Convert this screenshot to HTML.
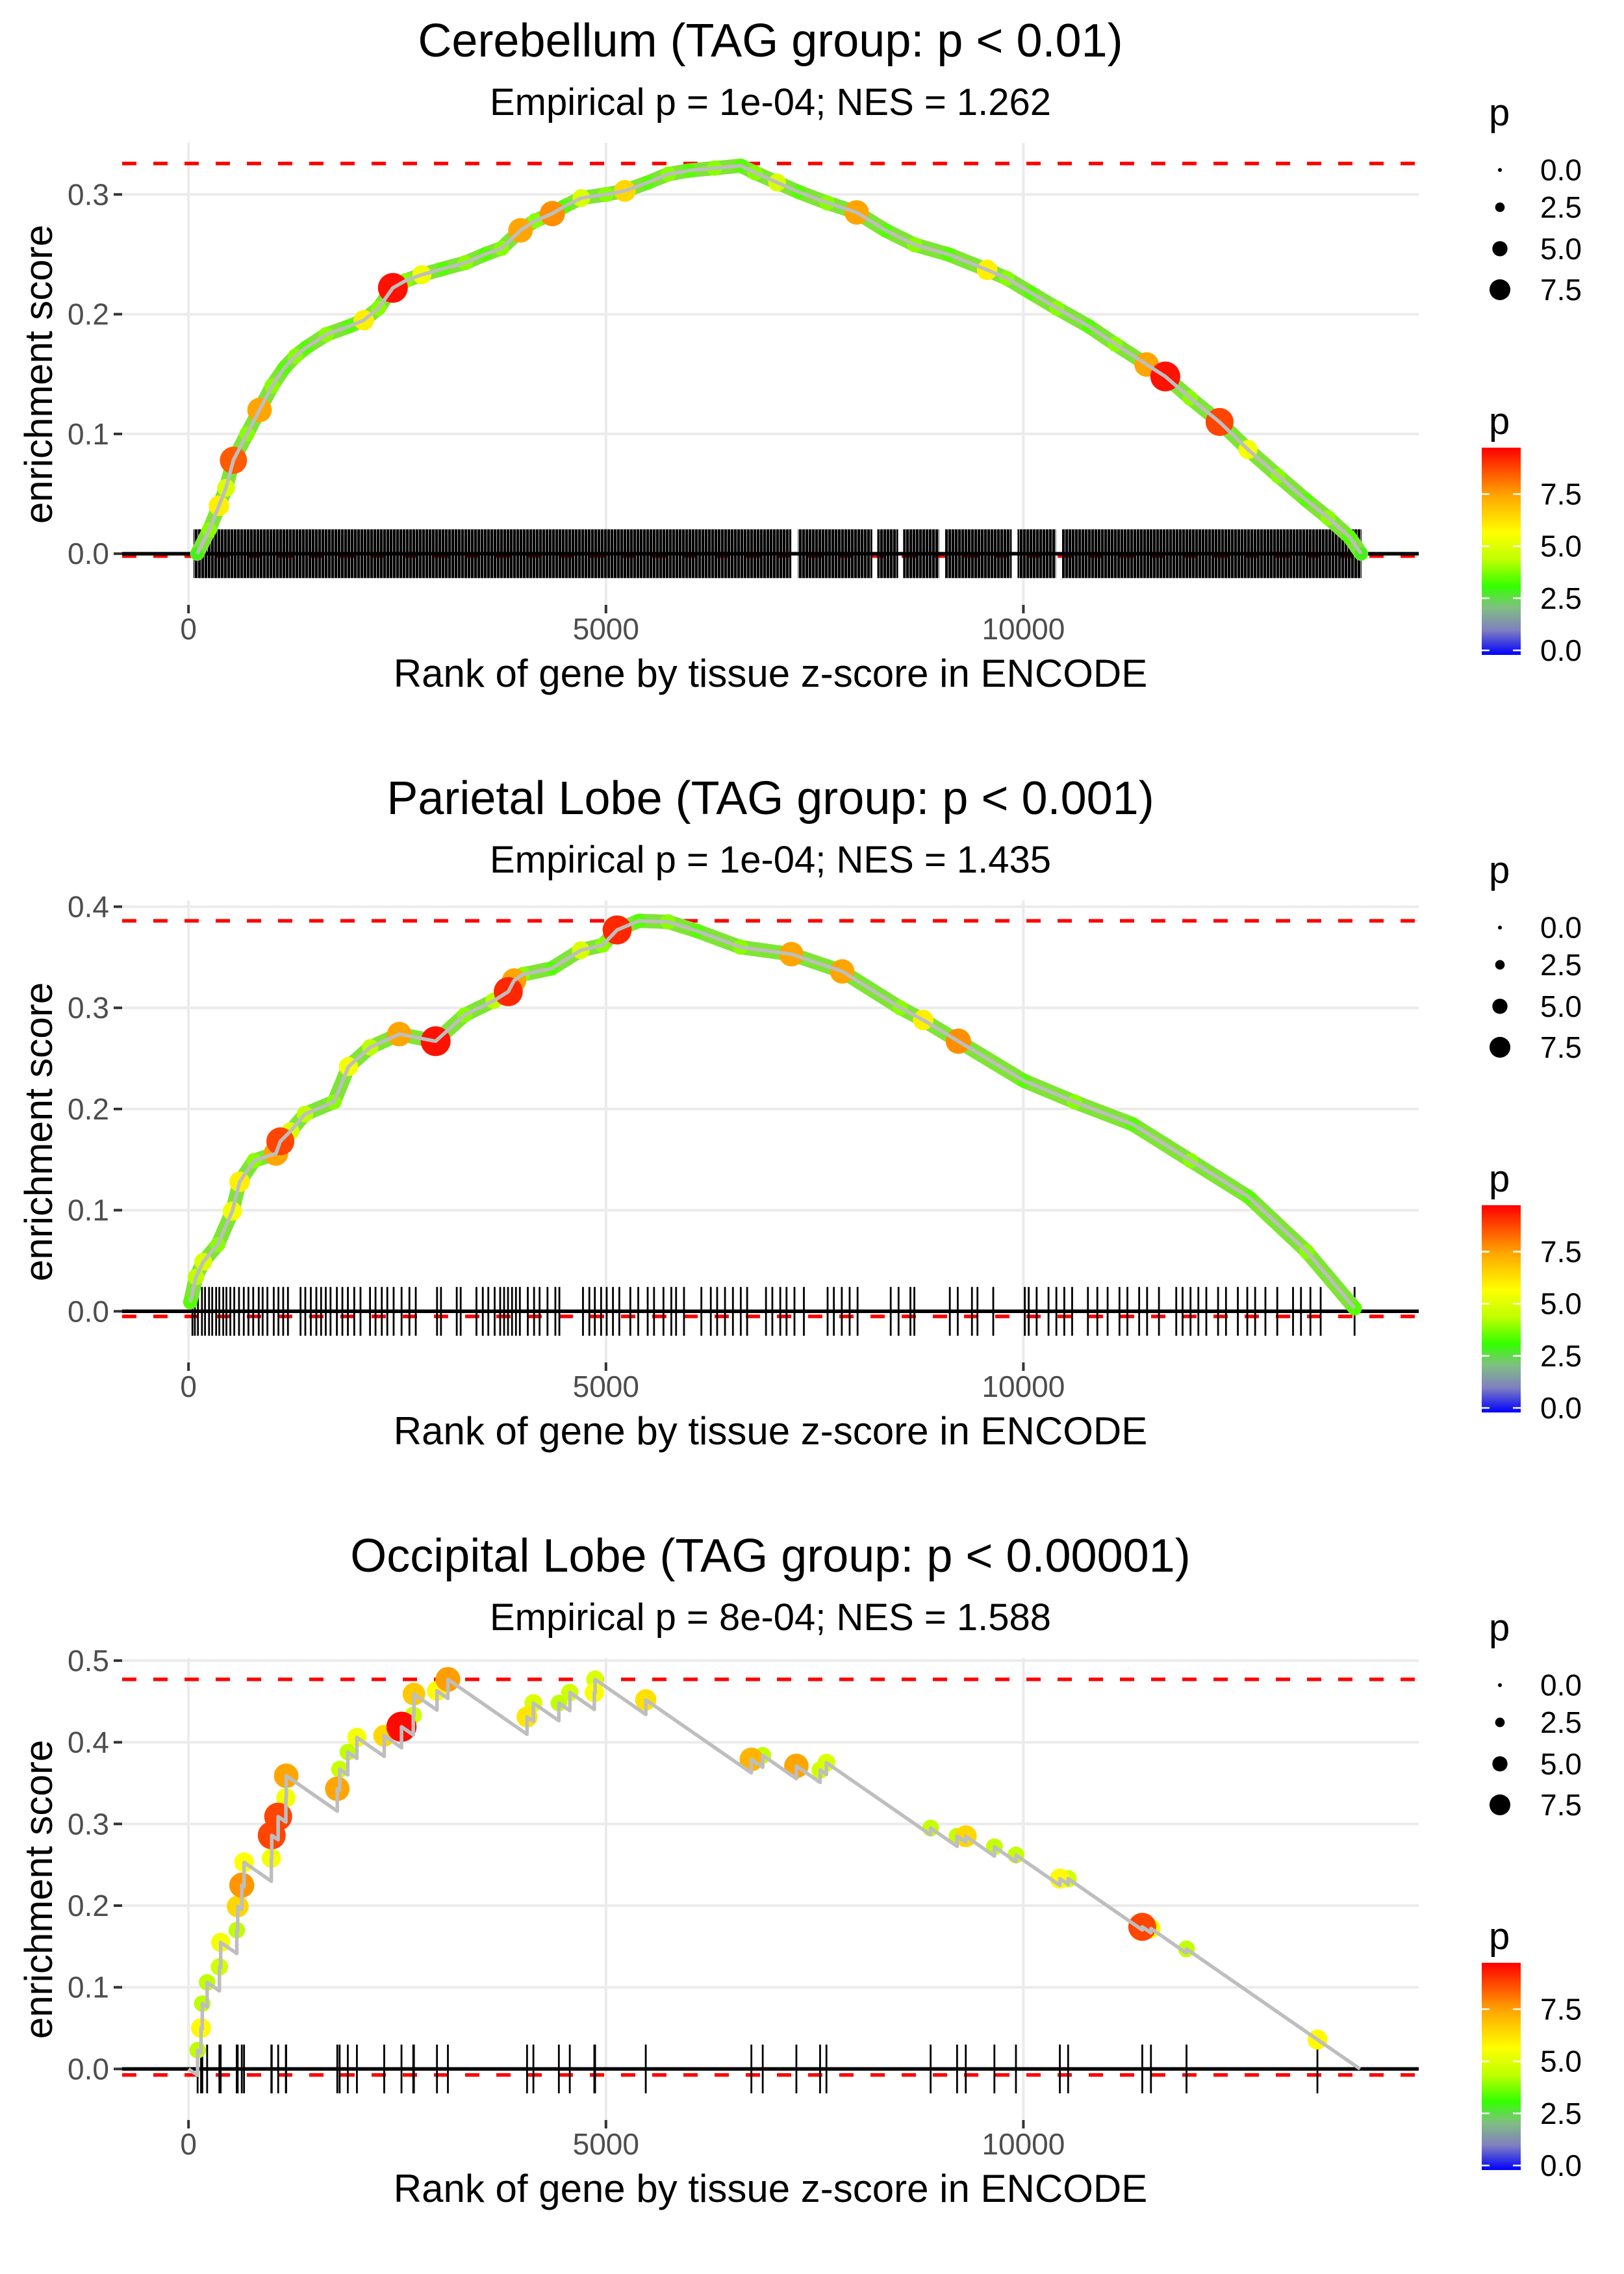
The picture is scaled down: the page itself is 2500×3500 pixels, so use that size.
<!DOCTYPE html>
<html><head><meta charset="utf-8"><style>
html,body{margin:0;padding:0;background:#fff;}
svg{display:block;font-family:"Liberation Sans",Arial,sans-serif;}
</style></head><body>
<svg id="chart" width="2500" height="3500" viewBox="0 0 2500 3500" xmlns="http://www.w3.org/2000/svg">
<defs>
<linearGradient id="pgrad" x1="0" y1="1" x2="0" y2="0">
<stop offset="0" stop-color="#0000FF"/>
<stop offset="0.12" stop-color="#8080C0"/>
<stop offset="0.23" stop-color="#80C080"/>
<stop offset="0.33" stop-color="#33FF00"/>
<stop offset="0.46" stop-color="#BFFF00"/>
<stop offset="0.59" stop-color="#FFFF00"/>
<stop offset="0.77" stop-color="#FFA500"/>
<stop offset="1" stop-color="#FF0000"/>
</linearGradient>
<pattern id="rugpat" width="5" height="10" patternUnits="userSpaceOnUse"><rect x="0" y="0" width="4.3" height="10" fill="#000"/></pattern>
</defs>
</svg>
<script>
// ---------- data ----------
const titles = ["Cerebellum (TAG group: p < 0.01)","Parietal Lobe (TAG group: p < 0.001)","Occipital Lobe (TAG group: p < 0.00001)"];
const subtitles = ["Empirical p = 1e-04; NES = 1.262","Empirical p = 1e-04; NES = 1.435","Empirical p = 8e-04; NES = 1.588"];
const xTicks = [0,5000,10000];
const xTickLabels = ["0","5000","10000"];
const yTicks1 = [0,0.1,0.2,0.3];
const yTicks2 = [0,0.1,0.2,0.3,0.4];
const yTicks3 = [0,0.1,0.2,0.3,0.4,0.5];
const esMax = [0.3259,0.386,0.477];
const esMin = [-0.002,-0.005,-0.0073];

const ranks1 = [104,250,365,450,538,700,851,1000,1146,1280,1406,1650,1927,2100,2274,2448,2600,2795,3050,3316,3550,3750,3976,4150,4358,4500,4705,5000,5226,5500,5747,6000,6300,6615,6788,7050,7309,7650,8003,8350,8698,9100,9566,9800,10087,10400,10781,11100,11476,11700,11997,12350,12691,13050,13385,13650,13906,14045];
const es1 = [0.0,0.02,0.04,0.055,0.078,0.1,0.12,0.14,0.155,0.165,0.172,0.183,0.19,0.195,0.205,0.222,0.228,0.233,0.238,0.243,0.25,0.255,0.27,0.278,0.284,0.29,0.297,0.30,0.303,0.31,0.317,0.32,0.322,0.324,0.318,0.31,0.302,0.293,0.285,0.27,0.258,0.25,0.237,0.23,0.218,0.205,0.19,0.175,0.158,0.148,0.13,0.11,0.087,0.065,0.045,0.03,0.014,0.0];
const p1 = [3,4,6,5,8.5,4,7.5,4,3.5,4,3.5,4,3.5,6,4,9.5,4,5.5,3.5,4,3.5,4,7.5,4,7.8,3.5,5,4,6.5,3.5,4,3.5,4,3.5,4,5,3.5,4,7.5,3.5,4,3.5,6,4,3.5,4,3.5,4,7.5,9.5,4,8.8,5.5,4,3.5,4,3.5,3];
const rugBands1 = [[60,7220],[7300,8190],[8250,8500],[8560,8990],[9060,9860],[9930,10390],[10460,14050]];

const ranks2 = [21,90,177,351,525,612,786,1047,1100,1221,1395,1743,1917,2177,2525,2960,3308,3656,3830,3900,4003,4351,4699,4960,5134,5395,5743,6090,6612,7221,7830,8525,8800,9221,10003,10612,11308,12003,12699,13395,13969];
const es2 = [0.009,0.034,0.049,0.066,0.099,0.128,0.149,0.156,0.168,0.178,0.195,0.207,0.242,0.261,0.274,0.267,0.293,0.307,0.316,0.327,0.333,0.339,0.357,0.362,0.377,0.386,0.385,0.376,0.360,0.353,0.336,0.300,0.288,0.267,0.228,0.207,0.185,0.149,0.113,0.059,0.003];
const p2 = [3.5,4.5,5,4,5.5,6,4,7.5,8.8,5,4.5,4,5.5,4.5,7.5,9.5,4,4.5,9.2,7.5,4,3.5,5,4,9.2,3.5,4,3.5,4,7.5,7.5,4,6,7.8,3.5,4,3.5,4,3.5,4,3.5];
const rug2 = [47,76,113,161,198,246,284,331,369,416,454,501,548,605,662,718,775,841,888,945,1021,1077,1134,1191,1342,1399,1465,1531,1588,1644,1701,1777,1843,1909,1985,2060,2174,2240,2315,2381,2457,2552,2646,2722,2977,3024,3213,3260,3449,3525,3591,3667,3733,3780,3827,3875,3922,3969,4064,4139,4205,4300,4394,4442,4725,4801,4867,4942,5009,5084,5160,5292,5387,5500,5576,5689,5783,5840,5935,6143,6256,6332,6426,6521,6615,6691,6917,6993,7088,7163,7258,7371,7655,7730,7825,7919,8014,8411,8505,8647,8694,9119,9214,9384,9450,9639,10017,10064,10159,10301,10395,10490,10584,10773,10886,11009,11151,11246,11387,11482,11624,11831,11907,12002,12096,12191,12332,12427,12569,12682,12776,12899,13041,13230,13325,13438,13561,13967];

const ranks3 = [109,150,165,223,370,385,578,589,638,665,992,997,1074,1166,1170,1782,1810,1908,2017,2344,2551,2692,2700,2976,3107,4055,4131,4436,4567,4861,4870,5477,6742,6878,7281,7565,7641,8889,9206,9310,9653,9911,10437,10536,11424,11528,11954,13522];
const es3 = [0.023,0.050,0.080,0.106,0.125,0.155,0.170,0.199,0.225,0.253,0.258,0.286,0.309,0.332,0.359,0.343,0.367,0.388,0.406,0.408,0.419,0.433,0.459,0.463,0.477,0.431,0.448,0.448,0.461,0.461,0.477,0.452,0.379,0.384,0.371,0.366,0.375,0.295,0.285,0.285,0.272,0.262,0.233,0.233,0.174,0.172,0.147,0.036];
const p3 = [4.5,5.8,4.5,4.5,4.8,5.5,4.5,6.5,7.7,5.7,5.5,8.8,8.8,5.5,7.5,7.5,4.7,4.5,5.5,6.5,9.6,4.8,6.8,5.8,7.6,6.2,5,4.5,4.8,5.6,5,6.3,7.2,4.6,7.5,4.8,5,4.6,4.6,6.5,4.6,4.6,5.8,4.8,8.8,5.6,4.6,5.8];
const missSlope3 = 7.08e-5;
const endRank = 14032;

const sizeLegendVals = [0,2.5,5,7.5];
const sizeLegendLabels = ["0.0","2.5","5.0","7.5"];
const colorLegendVals = [0,2.5,5,7.5];
const colorLegendLabels = ["0.0","2.5","5.0","7.5"];

// ---------- scales ----------
const NS = "http://www.w3.org/2000/svg";
const svg = document.getElementById("chart");
const PANEL_OFF = 1166;
const zeroY = [852.2, 2018.3, 3184.4];
const kY = [1843, 1557, 1257];
const X = r => 290.2 + r * 0.12852;
const PL = 188, PR = 2184, PT = 220, PB = 931;

function el(tag, attrs, parent) {
  const e = document.createElementNS(NS, tag);
  for (const k in attrs) e.setAttribute(k, attrs[k]);
  (parent || svg).appendChild(e);
  return e;
}
const stops = [[0,[0,0,255]],[1.2,[128,128,192]],[2.2,[128,192,128]],[3.2,[51,255,0]],[4.5,[191,255,0]],[5.7,[255,255,0]],[7.5,[255,165,0]],[9.73,[255,0,0]]];
function pColor(p) {
  for (let i = 1; i < stops.length; i++) {
    if (p <= stops[i][0]) {
      const a = stops[i-1], b = stops[i], t = (p - a[0]) / (b[0] - a[0]);
      const c = a[1].map((v, j) => Math.round(v + (b[1][j] - v) * t));
      return "rgb(" + c.join(",") + ")";
    }
  }
  return "rgb(255,0,0)";
}
const pRad = p => 3.5 + 2.05 * p;

const yTickSets = [yTicks1, yTicks2, yTicks3];
const ranksArr = [ranks1, ranks2, ranks3];
const esArr = [es1, es2, es3];
const pArr = [p1, p2, p3];

for (let i = 0; i < 3; i++) {
  const off = PANEL_OFF * i;
  const Y = v => zeroY[i] - v * kY[i];
  const g = el("g", {});
  
  

  const t = el("text", {x: 1186, y: 87 + off, "text-anchor": "middle", "font-size": 72, fill: "#000"}, g);
  t.textContent = titles[i];
  
  
  const st = el("text", {x: 1186, y: 177 + off, "text-anchor": "middle", "font-size": 58, fill: "#000"}, g);
  st.textContent = subtitles[i];
  
  

  yTickSets[i].forEach(v => {
    const l = el("line", {x1: PL, x2: PR, y1: Y(v), y2: Y(v), stroke: "#EBEBEB", "stroke-width": 4}, g);
    
    
  });
  xTicks.forEach(r => {
    const l = el("line", {x1: X(r), x2: X(r), y1: PT + off, y2: PB + off, stroke: "#EBEBEB", "stroke-width": 4}, g);
    
    
  });

  yTickSets[i].forEach(v => {
    const tk = el("line", {x1: 175, x2: 188, y1: Y(v), y2: Y(v), stroke: "#333", "stroke-width": 4}, g);
    
    
    const lb = el("text", {x: 168, y: Y(v) + 16, "text-anchor": "end", "font-size": 46, fill: "#4D4D4D"}, g);
    lb.textContent = v.toFixed(1);
    
    
  });
  xTicks.forEach((r, j) => {
    const tk = el("line", {x1: X(r), x2: X(r), y1: PB + off, y2: PB + off + 13, stroke: "#333", "stroke-width": 4}, g);
    
    
    const lb = el("text", {x: X(r), y: 984 + off, "text-anchor": "middle", "font-size": 46, fill: "#4D4D4D"}, g);
    lb.textContent = xTickLabels[j];
    
    
  });
  const xt = el("text", {x: 1186, y: 1057 + off, "text-anchor": "middle", "font-size": 60, fill: "#000"}, g);
  xt.textContent = "Rank of gene by tissue z-score in ENCODE";
  
  
  const yt = el("text", {x: 0, y: 0, "text-anchor": "middle", "font-size": 60, fill: "#000", transform: "translate(80," + (576 + off) + ") rotate(-90)"}, g);
  yt.textContent = "enrichment score";
  
  

  [esMax[i], esMin[i]].forEach(v => {
    const l = el("line", {x1: PL, x2: PR, y1: Y(v), y2: Y(v), stroke: "#FF0000", "stroke-width": 5.5, "stroke-dasharray": "22 26"}, g);
    
    
  });
  const zl = el("line", {x1: PL, x2: PR, y1: Y(0), y2: Y(0), stroke: "#000", "stroke-width": 5.5}, g);
  
  

  const rh = esMax[i] / 16 * kY[i];
  if (i === 0) {
    rugBands1.forEach(b => {
      const r = el("rect", {x: X(b[0]), y: Y(0) - rh, width: X(b[1]) - X(b[0]), height: 2 * rh, fill: "url(#rugpat)"}, g);
      
      
    });
  } else {
    const rr = i === 1 ? rug2 : ranks3;
    rr.forEach(r => {
      const l = el("line", {x1: X(r), x2: X(r), y1: Y(0) - rh, y2: Y(0) + rh, stroke: "#000", "stroke-width": 2.8}, g);
      
      
    });
  }

  const R = ranksArr[i], E = esArr[i], P = pArr[i];
  let pts;
  if (i < 2) {
    pts = R.map((r, j) => X(r).toFixed(1) + "," + Y(E[j]).toFixed(1));
    const band = el("polyline", {points: pts.join(" "), fill: "none", stroke: "#7FE534", "stroke-width": 22, "stroke-linejoin": "round", "stroke-linecap": "round"}, g);
    
    
  } else {
    pts = [X(0).toFixed(1) + "," + Y(0).toFixed(1)];
    let prevR = 0, prevE = 0;
    R.forEach((r, j) => {
      const pre = Math.min(prevE - missSlope3 * (r - prevR), E[j]);
      pts.push(X(r).toFixed(1) + "," + Y(pre).toFixed(1));
      pts.push(X(r).toFixed(1) + "," + Y(E[j]).toFixed(1));
      prevR = r; prevE = E[j];
    });
    pts.push(X(endRank).toFixed(1) + "," + Y(Math.max(0, prevE - missSlope3 * (endRank - prevR))).toFixed(1));
  }
  const order = R.map((_, j) => j).sort((a, b) => P[a] - P[b]);
  order.forEach(j => {
    const c = el("circle", {cx: X(R[j]), cy: Y(E[j]), r: pRad(P[j]), fill: pColor(P[j])}, g);
    
    
  });
  const line = el("polyline", {points: pts.join(" "), fill: "none", stroke: "#BEBEBE", "stroke-width": 5.5, "stroke-linejoin": "round"}, g);
  
  

  const lt = el("text", {x: 2292, y: 193 + off, "font-size": 58, fill: "#000"}, g);
  lt.textContent = "p";
  
  
  const sy = [261.6, 319, 382.8, 445.9];
  sizeLegendVals.forEach((v, j) => {
    const c = el("circle", {cx: 2309, cy: sy[j] + off, r: pRad(v) * 0.85, fill: "#000"}, g);
    
    
    const tx = el("text", {x: 2371, y: sy[j] + off + 16, "font-size": 46, fill: "#000"}, g);
    tx.textContent = sizeLegendLabels[j];
    
    
  });

  const ct = el("text", {x: 2292, y: 668 + off, "font-size": 58, fill: "#000"}, g);
  ct.textContent = "p";
  
  
  const cb = el("rect", {x: 2281, y: 689 + off, width: 60, height: 319, fill: "url(#pgrad)"}, g);
  
  
  colorLegendVals.forEach((v, j) => {
    const yy = 1001 - v * 32.07 + off;
    const t1 = el("line", {x1: 2281, x2: 2293, y1: yy, y2: yy, stroke: "#fff", "stroke-width": 2.5}, g);
    
    
    const t2 = el("line", {x1: 2329, x2: 2341, y1: yy, y2: yy, stroke: "#fff", "stroke-width": 2.5}, g);
    
    
    const tx = el("text", {x: 2371, y: yy + 16, "font-size": 46, fill: "#000"}, g);
    tx.textContent = colorLegendLabels[j];
    
    
  });
}
</script>
</body></html>
